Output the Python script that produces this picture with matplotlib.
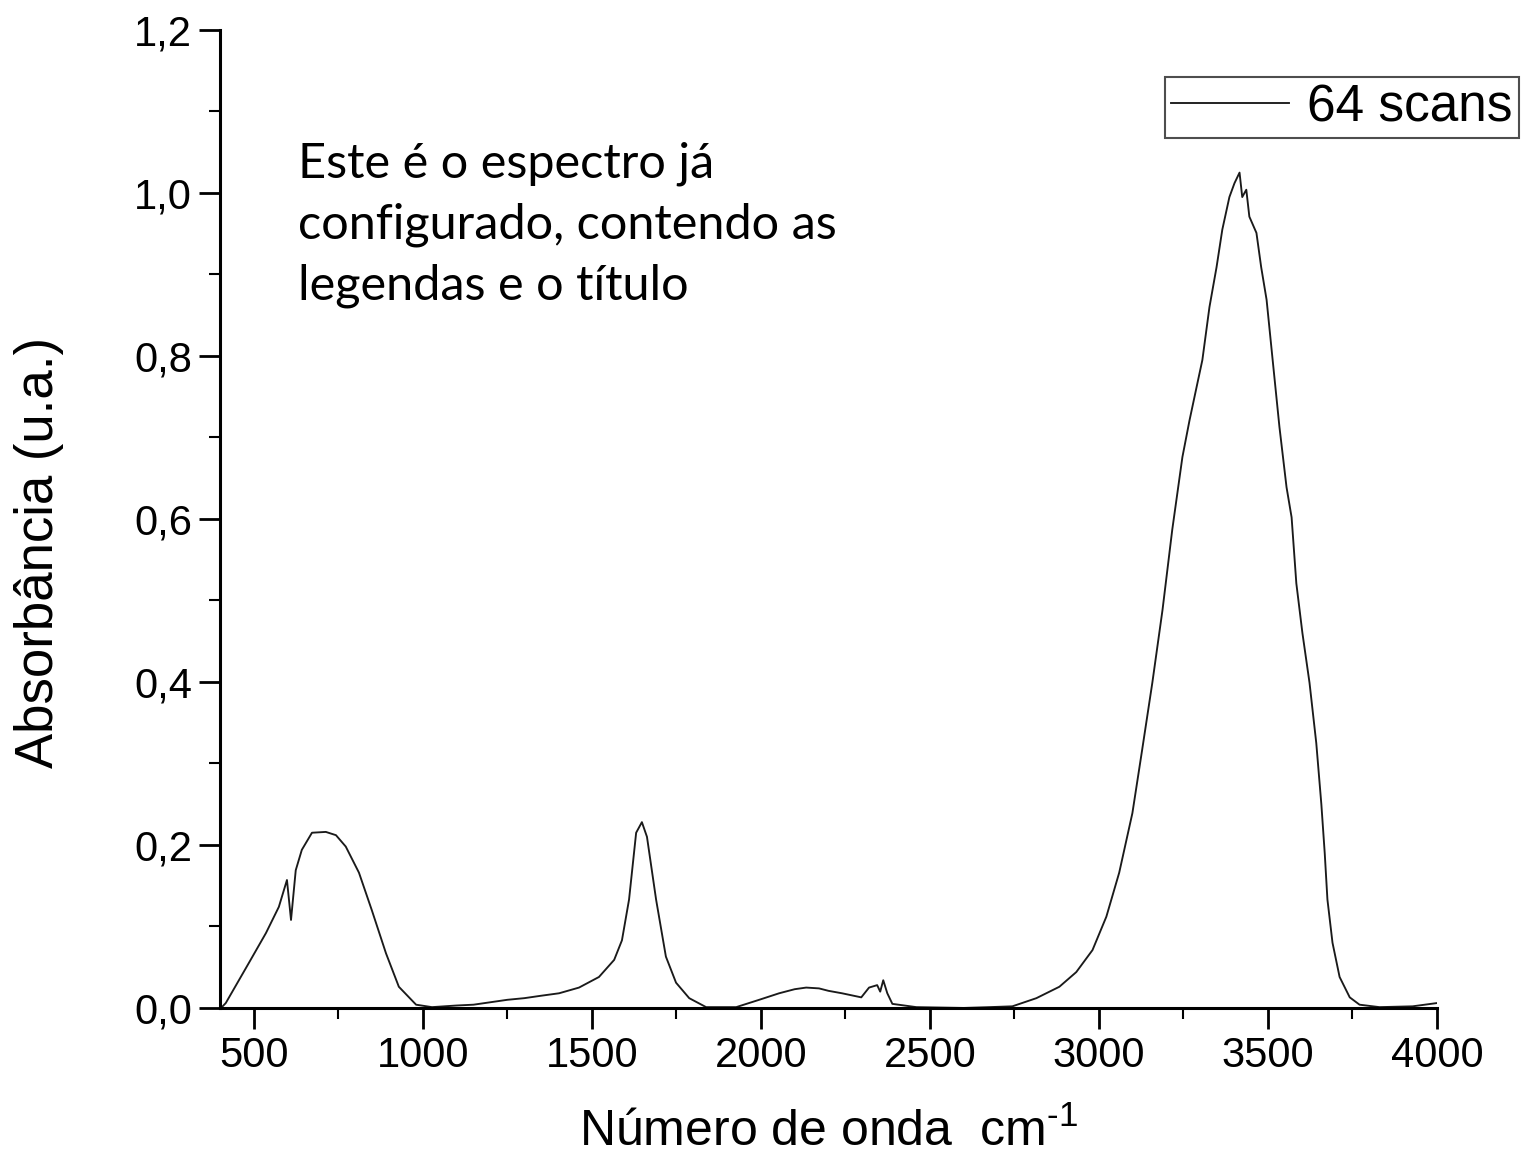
import matplotlib
matplotlib.use("Agg")
import matplotlib.pyplot as plt
from matplotlib.ticker import MultipleLocator, FuncFormatter

# wavenumber (cm-1) and absorbance
wavenumber = [
    400, 403, 417, 485, 536, 574, 598, 610, 624, 642, 672, 713, 743, 772,
    811, 849, 891, 929, 980, 1027, 1100, 1150, 1200, 1250, 1300, 1350,
    1403, 1462, 1521, 1566, 1589, 1610, 1631, 1648, 1663, 1690, 1719,
    1749, 1788, 1838, 1927, 1995, 2054, 2100, 2134, 2172, 2200, 2240,
    2297, 2320, 2344, 2353, 2362, 2374, 2389, 2460, 2600, 2676, 2744,
    2815, 2883, 2933, 2981, 3022, 3060, 3099, 3128, 3158, 3188, 3217,
    3247, 3268, 3289, 3306, 3327, 3348, 3365, 3386, 3401, 3416, 3424,
    3436, 3445, 3466, 3480, 3496, 3513, 3534, 3555, 3570, 3584, 3602,
    3623, 3643, 3658, 3668, 3676, 3691, 3712, 3742, 3771, 3830, 3928,
    4000,
]
absorbance = [
    0.045, 0.000, 0.006, 0.055, 0.092, 0.124, 0.157, 0.108, 0.169, 0.194,
    0.215, 0.216, 0.212, 0.198, 0.166, 0.120, 0.067, 0.026, 0.004, 0.001,
    0.003, 0.004, 0.007, 0.010, 0.012, 0.015, 0.018, 0.025, 0.038, 0.059,
    0.083, 0.133, 0.215, 0.228, 0.210, 0.133, 0.063, 0.031, 0.012, 0.001,
    0.001, 0.010, 0.018, 0.023, 0.025, 0.024, 0.021, 0.018, 0.013, 0.025,
    0.028, 0.020, 0.034, 0.018, 0.005, 0.001, 0.000, 0.001, 0.002, 0.012,
    0.026, 0.044, 0.071, 0.112, 0.166, 0.239, 0.317, 0.399, 0.488, 0.587,
    0.676, 0.721, 0.762, 0.795, 0.860, 0.909, 0.955, 0.995, 1.012, 1.025,
    0.995, 1.004, 0.971, 0.951, 0.909, 0.869, 0.799, 0.713, 0.639, 0.602,
    0.521, 0.460, 0.399, 0.325, 0.250, 0.190, 0.133, 0.080, 0.038, 0.013,
    0.004, 0.001, 0.002, 0.006,
]
series_label = "64 scans"
note = "Este é o espectro já\nconfigurado, contendo as\nlegendas e o título"

plt.rcParams["font.family"] = ["Liberation Sans", "DejaVu Sans"]
plt.rcParams["mathtext.fontset"] = "custom"
plt.rcParams["mathtext.rm"] = "Liberation Sans"

fig = plt.figure(figsize=(15.29, 11.76), dpi=100)
ax = fig.add_axes([0.1439, 0.1429, 0.9398 - 0.1439, 0.9745 - 0.1429])

ax.plot(wavenumber, absorbance, color="#1a1a1a", lw=1.35, label=series_label)

ax.set_xlim(400, 4000)
ax.set_ylim(0, 1.2)
ax.xaxis.set_major_locator(MultipleLocator(500))
ax.xaxis.set_minor_locator(MultipleLocator(250))
ax.yaxis.set_major_locator(MultipleLocator(0.2))
ax.yaxis.set_minor_locator(MultipleLocator(0.1))
ax.yaxis.set_major_formatter(FuncFormatter(lambda v, p: f"{v:.1f}".replace(".", ",")))

for side in ["top", "right"]:
    ax.spines[side].set_visible(False)
for side in ["left", "bottom"]:
    ax.spines[side].set_linewidth(2.2)

ax.tick_params(which="major", direction="out", length=15, width=2, labelsize=30, pad=5)
ax.tick_params(which="minor", direction="out", length=8, width=1.5)

ax.set_xlabel("Número de onda  cm$^{\\text{-1}}$", fontsize=36, labelpad=24)
ax.set_ylabel("Absorbância (u.a.)", fontsize=38)
ax.yaxis.set_label_coords((64 - 220) / 1217, 0.466)

leg = ax.legend(loc="upper right", bbox_to_anchor=(1519 / 1529, 1 - 77 / 1176),
                bbox_transform=fig.transFigure, fontsize=37, frameon=True,
                fancybox=False, handlelength=2.3, borderpad=0.12,
                handletextpad=0.35, borderaxespad=0)
leg.get_frame().set_edgecolor("#222222")
leg.get_frame().set_linewidth(1.5)

fig.text(298 / 1529, 1 - 142 / 1176, note, fontsize=35, family=["Lato", "DejaVu Sans"],
         va="top", ha="left", linespacing=1.45)

fig.savefig("out.png", dpi=100)
